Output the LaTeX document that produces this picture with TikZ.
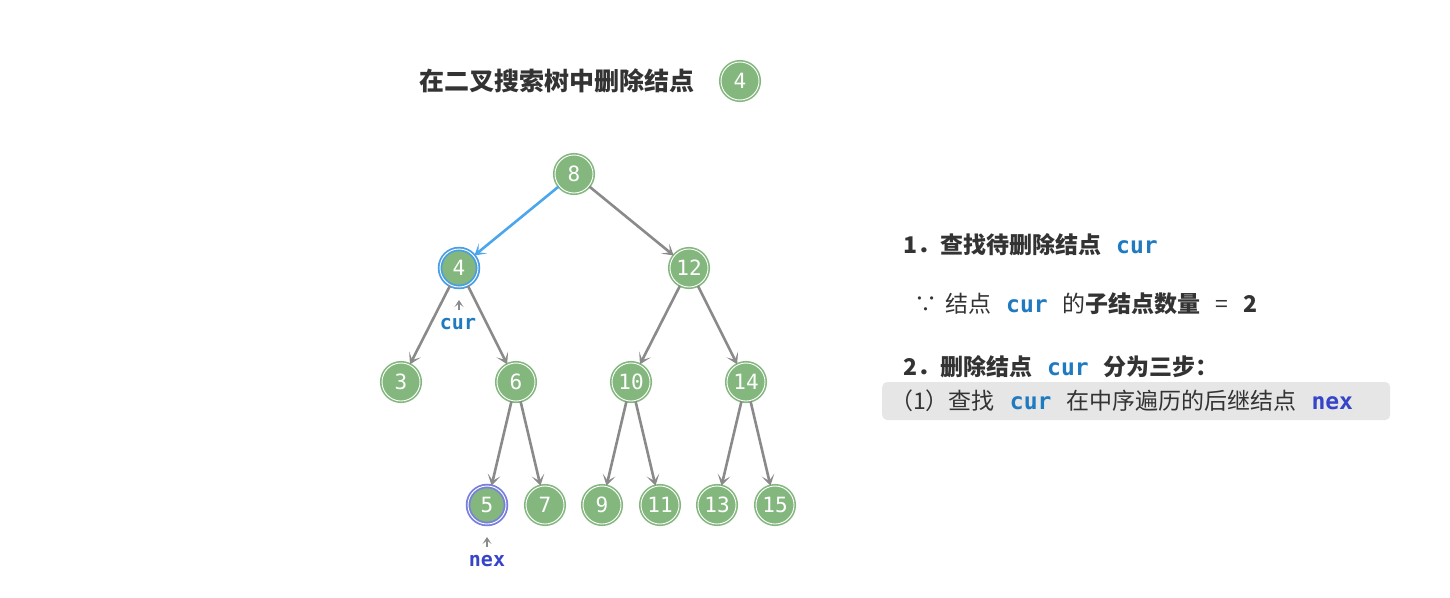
\documentclass[tikz,border=0pt]{standalone}
\usepackage{fontspec}
\setmainfont{Noto Sans CJK SC}
\newfontfamily\codefont{DejaVu Sans Mono}
\usetikzlibrary{arrows.meta}
\definecolor{nodegreen}{HTML}{83B77E}
\definecolor{edgegray}{HTML}{8A8A8A}
\definecolor{curedge}{HTML}{4BA6EE}
\definecolor{curring}{HTML}{4A9EE2}
\definecolor{nexring}{HTML}{7880DC}
\definecolor{curtext}{HTML}{1F7AC0}
\definecolor{nextext}{HTML}{3544C8}
\definecolor{textdark}{HTML}{333333}
\definecolor{boxgray}{HTML}{E6E6E6}
\newcommand{\code}[2]{{\codefont\bfseries\color{#1}#2}}
\newcommand{\gap}{\hspace{15pt}}
\tikzstyle{treenode} = [circle, minimum size=38pt, inner sep=0pt, fill=nodegreen,
    draw=nodegreen, double=white, double distance=0.9pt, line width=1.6pt,
    text=white, font=\codefont\fontsize{21}{21}\selectfont]
\tikzstyle{curnode} = [treenode, draw=curring, line width=1.8pt]
\tikzstyle{nexnode} = [treenode, draw=nexring, line width=1.8pt]
\tikzstyle{diredge} = [line width=2.6pt, edgegray, ->,
    >={Stealth[length=11pt, width=13pt, inset=6pt]}]
\tikzstyle{caret} = [line width=1.4pt, edgegray, ->,
    >={Stealth[length=7pt, width=9pt, inset=3.5pt]}]
\tikzstyle{steptext} = [right, inner sep=0pt, text=textdark,
    font=\fontsize{23}{23}\selectfont]

\begin{document}
\begin{tikzpicture}[x=1pt,y=-1pt]
    \useasboundingbox (0,0) rectangle (1450,597);
    % title
    \node[text=textdark, font=\bfseries\fontsize{25}{25}\selectfont] (title)
        at (557,81) {在二叉搜索树中删除结点};
    \node[treenode] (badge) at (740,81) {4};
    % tree
    \foreach \name/\x/\y in {8/574/174, 12/689/268, 3/401/382, 6/516/382,
        10/631/382, 14/746/382, 7/545/505, 9/602/505, 11/660/505,
        13/717/505, 15/775/505}{
        \node[treenode] (n\name) at (\x,\y) {\name};
    }
    \node[curnode] (n4) at (459,268) {4};
    \node[nexnode] (n5) at (487,505) {5};
    \draw[diredge, curedge] (n8) -- (n4);
    \foreach \a/\b in {8/12, 4/3, 4/6, 12/10, 12/14, 6/5, 6/7,
        10/9, 10/11, 14/13, 14/15}{
        \draw[diredge] (n\a) -- (n\b);
    }
    % pointers
    \node[font=\codefont\bfseries\fontsize{20}{20}\selectfont, text=curtext]
        (curlbl) at (458,324) {cur};
    \coordinate (curbase) at (459,310);
    \coordinate (curtip) at (459,300);
    \draw[caret] (curbase) -- (curtip);
    \node[font=\codefont\bfseries\fontsize{20}{20}\selectfont, text=nextext]
        (nexlbl) at (487,561) {nex};
    \coordinate (nexbase) at (487,547);
    \coordinate (nextip) at (487,537);
    \draw[caret] (nexbase) -- (nextip);
    % steps
    \node[steptext, font=\bfseries\fontsize{23}{23}\selectfont] (line1)
        at (903,245) {1．查找待删除结点\gap\code{curtext}{cur}};
    \node[steptext] (line2) at (914,304)
        {∵\hspace{8pt}结点\gap\code{curtext}{cur}\gap 的\textbf{子结点数量}\gap =\gap\textbf{2}};
    \node[steptext, font=\bfseries\fontsize{23}{23}\selectfont] (line3)
        at (903,367) {2．删除结点\gap\code{curtext}{cur}\gap 分为三步：};
    \node[anchor=west, fill=boxgray, rounded corners=5pt, text width=492pt,
        inner xsep=8pt, minimum height=38pt, text=textdark,
        font=\fontsize{23}{23}\selectfont] (substep) at (882,401)
        {（1）查找\gap\code{curtext}{cur}\gap 在中序遍历的后继结点\gap\code{nextext}{nex}};
\end{tikzpicture}
\end{document}
